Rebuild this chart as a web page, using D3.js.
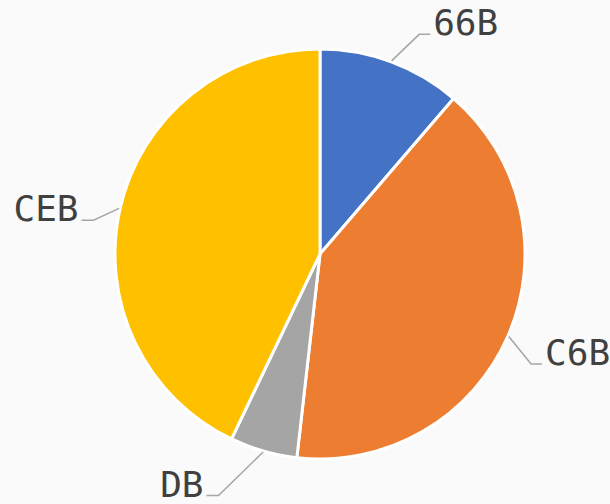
<!DOCTYPE html>
<html>
<head>
<meta charset="utf-8">
<script src="https://cdn.jsdelivr.net/npm/d3@7"></script>
<style>
  html, body { margin: 0; padding: 0; background: #fafafa; }
  svg { display: block; }
</style>
</head>
<body>
<div id="chart"></div>
<script>
// data
const categories = ['66B', 'C6B', 'DB', 'CEB'];
const values = [11.3, 40.5, 5.3, 42.9];
const colors = ['#4472c4', '#ed7d31', '#a5a5a5', '#ffc000'];

// where each label's leader bends (radius from centre, angle in degrees)
const elbowR = [241, 238, 262, 229];
const elbowA = [24.3, 117.5, 202.8, 278.5];

const width = 610;
const height = 504;
const cx = 320;
const cy = 254;
const radius = 205;

const svg = d3.select('#chart')
  .append('svg')
  .attr('width', width)
  .attr('height', height);

svg.append('rect')
  .attr('width', width)
  .attr('height', height)
  .attr('fill', '#fafafa');

const g = svg.append('g')
  .attr('transform', `translate(${cx}, ${cy})`);

const pie = d3.pie().sort(null).value((d) => d);
const arc = d3.arc().innerRadius(0).outerRadius(radius);
const arcs = pie(values);

g.selectAll('path')
  .data(arcs)
  .enter()
  .append('path')
  .attr('d', arc)
  .attr('fill', (d, i) => colors[i])
  .attr('stroke', '#ffffff')
  .attr('stroke-width', 3)
  .attr('stroke-linejoin', 'round');

const polar = (r, a) => [r * Math.sin(a), -r * Math.cos(a)];

// leader lines + labels
arcs.forEach((d, i) => {
  const mid = (d.startAngle + d.endAngle) / 2;
  const p0 = polar(radius + 1, mid);
  const p1 = polar(elbowR[i], elbowA[i] * Math.PI / 180);
  const right = p1[0] > 0;
  const p2 = [p1[0] + (right ? 11 : -12), p1[1]];

  g.append('polyline')
    .attr('points', [p0, p1, p2].map((p) => p.join(',')).join(' '))
    .attr('fill', 'none')
    .attr('stroke', '#a6a6a6')
    .attr('stroke-width', 1.5);

  g.append('text')
    .attr('x', p2[0] + (right ? 3 : -3))
    .attr('y', p2[1] + 1)
    .attr('text-anchor', right ? 'start' : 'end')
    .attr('font-family', '"DejaVu Sans Mono", monospace')
    .attr('font-size', 36)
    .attr('fill', '#404040')
    .text(categories[i]);
});
</script>
</body>
</html>
